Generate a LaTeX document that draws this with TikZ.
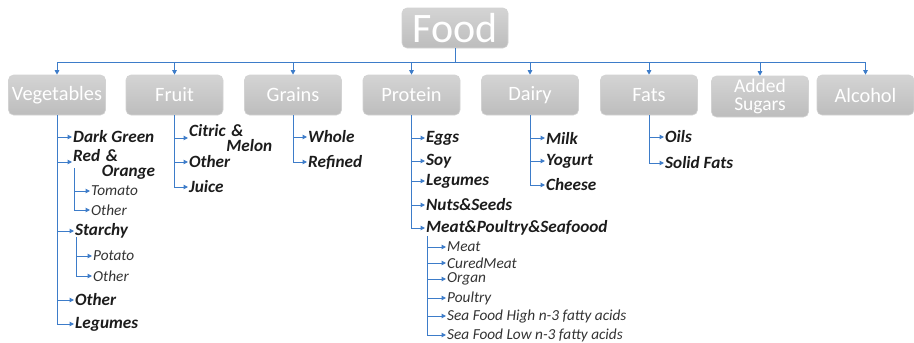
\documentclass[tikz,border=0pt]{standalone}
\usepackage{fontspec}
\setmainfont{Carlito}
\usetikzlibrary{arrows.meta}
\definecolor{boxtop}{HTML}{D4D4D4}
\definecolor{boxbot}{HTML}{BDBDBD}
\definecolor{boxedge}{HTML}{D2D2D2}
\definecolor{lineblue}{HTML}{3D7CC9}
\definecolor{itemcol}{HTML}{1C1C1C}
\definecolor{subcol}{HTML}{333333}
\begin{document}
\begin{tikzpicture}[x=1pt,y=-1pt,
 catbox/.style={rounded corners=5pt, top color=boxtop, bottom color=boxbot, draw=boxedge, line width=0.6pt, minimum width=97pt, minimum height=40pt, text=white, font=\fontsize{20.4}{19}\selectfont, inner sep=0pt, align=center},
 conn/.style={draw=lineblue, line width=1pt, -{Triangle[length=4.5pt,width=4.5pt]}},
 item/.style={anchor=west, inner sep=1pt, font=\fontsize{17.2}{15}\selectfont\bfseries\itshape, text=itemcol, align=left},
 subitem/.style={anchor=west, inner sep=1pt, font=\fontsize{15.3}{15}\selectfont\itshape, text=subcol},
]
\useasboundingbox (0,0) rectangle (914,343);
% top
\node[catbox, minimum width=106pt, font=\fontsize{42}{42}\selectfont] (food) at (455,28) {Food};
\node[catbox] (veg) at (57,95) {Vegetables};
\node[catbox] (fruit) at (174.5,95) {Fruit};
\node[catbox] (grains) at (293,95) {Grains};
\node[catbox] (protein) at (411.5,95) {Protein};
\node[catbox] (dairy) at (530,95) {Dairy};
\node[catbox] (fats) at (649,95) {Fats};
\node[catbox, minimum height=41pt, font=\fontsize{19.5}{18.5}\selectfont] (sugars) at (760,96.5) {Added\\Sugars};
\node[catbox] (alcohol) at (865.5,95) {Alcohol};
\coordinate (bus) at (455,62);
\foreach \c in {veg,fruit,grains,protein,dairy,fats,sugars,alcohol}{
  \draw[conn] (food.south) -- (bus) -| (\c.north);
}
% Vegetables
\node[item] (dg) at (72,137) {Dark Green};
\node[item, text width=82pt] (ro) at (72,164) {Red \&\\\hspace*{\fill}Orange};
\node[item] (st) at (74,231) {Starchy};
\node[item] (vo) at (74,300) {Other};
\node[item] (vl) at (74,324) {Legumes};
\draw[conn] (veg.south) |- (dg.west);
\draw[conn] (veg.south) |- ([yshift=2pt]ro.west);
\draw[conn] (veg.south) |- (st.west);
\draw[conn] (veg.south) |- (vo.west);
\draw[conn] (veg.south) |- (vl.west);
\coordinate (rov) at (74,168);
\node[subitem] (tom) at (90,191) {Tomato};
\node[subitem] (roo) at (90,210) {Other};
\draw[conn] (rov) |- (tom.west);
\draw[conn] (rov) |- (roo.west);
\coordinate (stv) at (76,237);
\node[subitem] (pot) at (92,256) {Potato};
\node[subitem] (sto) at (92,276) {Other};
\draw[conn] (stv) |- (pot.west);
\draw[conn] (stv) |- (sto.west);
% Fruit
\node[item, text width=83pt] (cm) at (188,138) {Citric \&\\\hspace*{\fill}Melon};
\node[item] (fo) at (188,162) {Other};
\node[item] (ju) at (188,187) {Juice};
\draw[conn] (fruit.south) |- (cm.west);
\draw[conn] (fruit.south) |- (fo.west);
\draw[conn] (fruit.south) |- (ju.west);
% Grains
\node[item] (wh) at (307,137) {Whole};
\node[item] (rf) at (307,162) {Refined};
\draw[conn] (grains.south) |- (wh.west);
\draw[conn] (grains.south) |- (rf.west);
% Protein
\node[item] (eg) at (425,138) {Eggs};
\node[item] (so) at (425,161) {Soy};
\node[item] (pl) at (425,181) {Legumes};
\node[item] (ns) at (425,205) {Nuts\&Seeds};
\node[item] (mp) at (425,228) {Meat\&Poultry\&Seafoood};
\foreach \n in {eg,so,pl,ns,mp}{
  \draw[conn] (protein.south) |- (\n.west);
}
\coordinate (mpv) at (427,236);
\node[subitem] (m1) at (446,247) {Meat};
\node[subitem] (m2) at (446,263) {CuredMeat};
\node[subitem] (m3) at (446,279) {Organ};
\node[subitem] (m4) at (446,298) {Poultry};
\node[subitem] (m5) at (446,316) {Sea Food High n-3 fatty acids};
\node[subitem] (m6) at (446,335) {Sea Food Low n-3 fatty acids};
\foreach \n in {m1,m2,m3,m4,m5,m6}{
  \draw[conn] (mpv) |- (\n.west);
}
% Dairy
\node[item] (mi) at (545,138) {Milk};
\node[item] (yo) at (545,161) {Yogurt};
\node[item] (ch) at (545,185) {Cheese};
\draw[conn] (dairy.south) |- (mi.west);
\draw[conn] (dairy.south) |- (yo.west);
\draw[conn] (dairy.south) |- (ch.west);
% Fats
\node[item] (oi) at (664,137) {Oils};
\node[item] (sf) at (664,163) {Solid Fats};
\draw[conn] (fats.south) |- (oi.west);
\draw[conn] (fats.south) |- (sf.west);
\end{tikzpicture}
\end{document}
